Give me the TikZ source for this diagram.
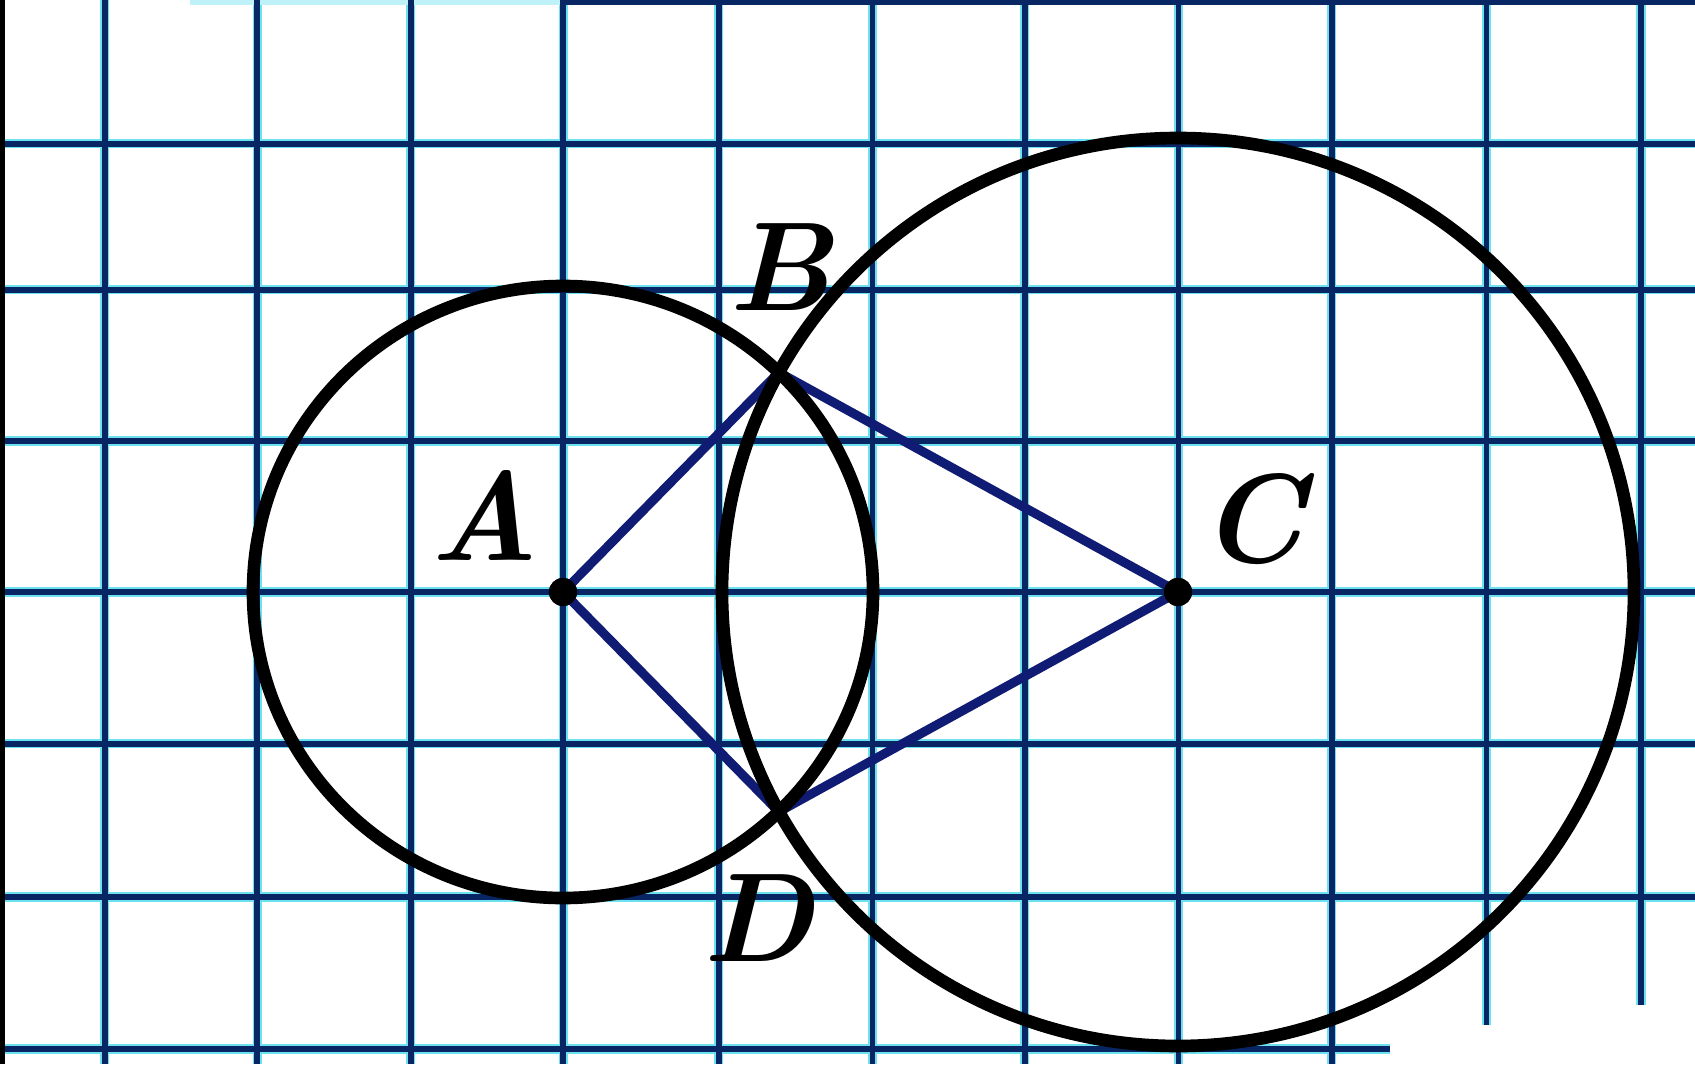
\documentclass[tikz,border=0pt]{standalone}
\usetikzlibrary{intersections}
\definecolor{gridnavy}{RGB}{8,38,100}
\definecolor{gridcyan}{RGB}{110,225,240}
\definecolor{segnavy}{RGB}{16,28,115}
\begin{document}
\begin{tikzpicture}[x=0.01cm,y=-0.01cm,
  gridhalo/.style={draw=gridcyan,line width=2.6pt},
  gridline/.style={draw=gridnavy,line width=1.6pt},
  circ/.style={draw=black,line width=3.6pt},
  seg/.style={draw=segnavy,line width=2.6pt},
  dot/.style={circle,fill=black,inner sep=0pt,minimum size=8pt},
  lbl/.style={font=\fontsize{36}{40}\selectfont\bfseries\itshape,inner sep=0pt}]
\useasboundingbox (0,0) rectangle (1695,1064);
\fill[white] (0,0) rectangle (1695,1064);
% grid
\foreach \x/\e in {104.9/1064,257.3/1064,410.8/1064,563.2/1064,718.9/1064,872.4/1064,1024.8/1064,1178.3/1064,1331.8/1064,1486.4/1025,1641/1005}{
  \draw[gridhalo] (\x,0) -- (\x,\e);
}
\foreach \y/\e in {143.8/1695,289.7/1695,441/1695,592/1695,743.7/1695,897/1695,1049/1390}{
  \draw[gridhalo] (5,\y) -- (\e,\y);
}
\draw[draw=gridcyan!45,line width=1.6pt] (190,2) -- (560,2);
\foreach \x/\e in {104.9/1064,257.3/1064,410.8/1064,563.2/1064,718.9/1064,872.4/1064,1024.8/1064,1178.3/1064,1331.8/1064,1486.4/1025,1641/1005}{
  \draw[gridline] (\x,0) -- (\x,\e);
}
\foreach \y/\e in {143.8/1695,289.7/1695,441/1695,592/1695,743.7/1695,897/1695,1049/1390}{
  \draw[gridline] (5,\y) -- (\e,\y);
}
\draw[gridline] (560,2) -- (1695,2);
\fill[black] (0,0) rectangle (5,1064);
% points
\node[dot] (A) at (563,592) {};
\node[dot] (C) at (1178,592) {};
% circles
\path[name path=ca] (A.center) ellipse [x radius=310, y radius=306];
\path[name path=cc] (C.center) ellipse [x radius=456, y radius=454];
\path[name intersections={of=ca and cc, by={P1,P2}}];
% segments
\draw[seg] (A.center) -- (P1) -- (C.center) -- (P2) -- cycle;
\draw[circ] (A.center) ellipse [x radius=310, y radius=306];
\draw[circ] (C.center) ellipse [x radius=456, y radius=454];
\node[dot] at (A.center) {};
\node[dot] at (C.center) {};
% labels
\node[lbl] (lA) at (484,515) {A};
\node[lbl] (lB) at (780,267) {B};
\node[lbl] (lC) at (1252,519) {C};
\node[lbl] (lD) at (758,918) {D};
\end{tikzpicture}
\end{document}
